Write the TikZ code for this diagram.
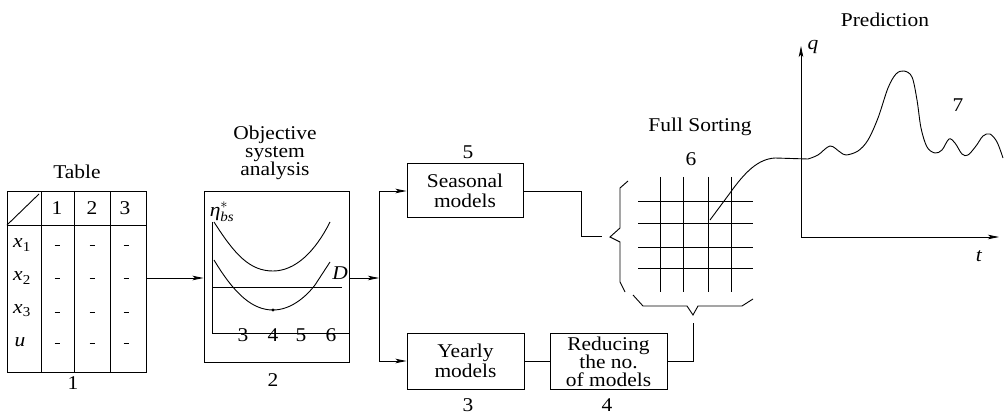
\documentclass[tikz,border=0pt]{standalone}
\usepackage{fontspec}
\usepackage{amsmath}
\setmainfont{Liberation Serif}[FakeStretch=1.1]
\usetikzlibrary{arrows.meta}
\newcommand\fs{\fontsize{19.5}{18.5}\selectfont}
\tikzset{
  ln/.style={line width=0.9pt},
  arr/.style={ln, -{Stealth[length=11pt,width=4.5pt,inset=2.5pt]}},
  blk/.style={draw, line width=1pt, inner sep=0pt, align=center, font=\fontsize{19.5}{20.5}\selectfont},
  lbl/.style={font=\fs, inner sep=0pt, align=center},
}
\begin{document}
\begin{tikzpicture}[x=1pt,y=-1pt]
\useasboundingbox (0,0) rectangle (1005,417);

% ---- block 1: table ----
\node[blk, minimum width=139pt, minimum height=180pt] (tab) at (76.5,282) {};
\node[lbl] (tabT) at (77,172) {Table};
\node[lbl] (tabN) at (73,383) {1};
\draw[ln] (tab.west |- 0,225) -- (tab.east |- 0,225);
\foreach \x in {41,74,110} \draw[ln] (\x,192) -- (\x,372);
\draw[ln] (7,225) -- (39,194);
\node[lbl] (h1) at (57,208) {1};
\node[lbl] (h2) at (92,208) {2};
\node[lbl] (h3) at (125,208) {3};
\node[lbl] (r1) at (22,245) {\textit{x}\textsubscript{1}};
\node[lbl] (r2) at (22,278) {\textit{x}\textsubscript{2}};
\node[lbl] (r3) at (22,311) {\textit{x}\textsubscript{3}};
\node[lbl] (r4) at (20,342) {\textit{u}};
\foreach \y in {245,278,312,343}
  \foreach \x in {57,92,126}
    \draw[ln] (\x-2.5,\y) -- (\x+2.5,\y);

% ---- block 2: objective system analysis ----
\node[blk, minimum width=145pt, minimum height=170pt] (osa) at (276.5,277) {};
\node[lbl, font=\fontsize{19.5}{17.5}\selectfont] (osaT) at (275,153) {Objective\\system\\analysis};
\node[lbl] (osaN) at (273,380) {2};
\node[lbl] (eta) at (222,212) {\textit{η}$^{*}_{\textit{bs}}$};
\draw[ln] (212,222) -- (212,333) -- (osa.east |- 0,333);
\node[lbl] (n3) at (243,335) {3};
\node[lbl] (n4) at (273,335) {4};
\node[lbl] (n5) at (301,335) {5};
\node[lbl] (n6) at (331,335) {6};
\draw[ln] (212,287) -- (342,287);
\node[lbl] (D) at (340,273) {\textit{D}};
\draw[ln] (214,222) .. controls (235,255) and (250,271) .. (273,271)
          .. controls (295,271) and (315,252) .. (330,222);
\draw[ln] (214,260) .. controls (235,295) and (253,310) .. (273,310)
          .. controls (290,310) and (305,298) .. (315,285) -- (330,262);
\fill (273,310) circle (1.6pt);

% ---- models ----
\node[blk, minimum width=116pt, minimum height=54pt] (seas) at (465,191) {Seasonal\\models};
\node[lbl] (seasN) at (468,152) {5};
\node[blk, minimum width=117pt, minimum height=56pt] (year) at (465.5,361) {Yearly\\models};
\node[lbl] (yearN) at (468,405) {3};
\node[draw, line width=1pt, minimum width=117pt, minimum height=56pt] (red) at (608.5,361) {};
\node[lbl, font=\fontsize{19.5}{18}\selectfont] (redT) at ([yshift=-1pt]red.center) {Reducing\\the no.\\of models};
\node[lbl] (redN) at (607,405) {4};

% ---- connectors ----
\coordinate (split) at (379,278);
\draw[arr] (tab.east |- split) -- (osa.west |- split);
\draw[arr] (osa.east |- split) -- (split);
\draw[arr] (split) |- (seas.west);
\draw[arr] (split) |- (year.west);
\draw[ln] (year) -- (red);

% ---- block 6: full sorting ----
\node[lbl] (fsT) at (700,127) {Full Sorting};
\node[lbl] (fsN) at (691,159) {6};
\foreach \x in {660,683,708,731} \draw[ln] (\x,177) -- (\x,292);
\foreach \y in {201,223,247,268} \draw[ln] (638,\y) -- (753,\y);
% left brace
\coordinate (lbrace) at (610,237);
\draw[ln] (628,181) -- (620,188) -- (620,228) -- (lbrace) -- (620,242) -- (620,282) -- (625,292);
% lower brace
\coordinate (bbrace) at (693,315);
\draw[ln] (633,295) -- (643,306) -- (687,306) -- (bbrace) -- (698,306) -- (742,306) -- (753,299);
\coordinate (sj) at (581,236);
\draw[ln] (seas.east) -| (sj) -- (602,236);
\coordinate (rj) at (693,323);
\draw[ln] (red.east) -| (rj);

% ---- block 7: prediction ----
\coordinate (O) at (801,237);
\coordinate (qtop) at (801,46);
\coordinate (tend) at (999,237);
\draw[arr] (O) -- (qtop);
\draw[arr] (O) -- (tend);
\node[lbl] (q) at (813,47) {\textit{q}};
\node[lbl] (t) at (979,256) {\textit{t}};
\node[lbl] (pred) at (885,20) {Prediction};
\node[lbl] (seven) at (958,105) {7};
\draw[ln] (710,220) -- (730,193) .. controls (745,172) and (758,159) .. (775,158) -- (808,159);
\draw[ln] plot[smooth, tension=0.55] coordinates {
  (808,159) (818,155) (830,146) (840,152) (846,155) (858,151) (868,140)
  (878,118) (888,88) (896,74) (904,71) (912,77) (917,100) (921,128)
  (927,147) (935,153) (942,150) (949,139) (955,143) (962,154) (968,155)
  (976,146) (983,136) (990,134) (997,142) (1003,158)};
\end{tikzpicture}
\end{document}
